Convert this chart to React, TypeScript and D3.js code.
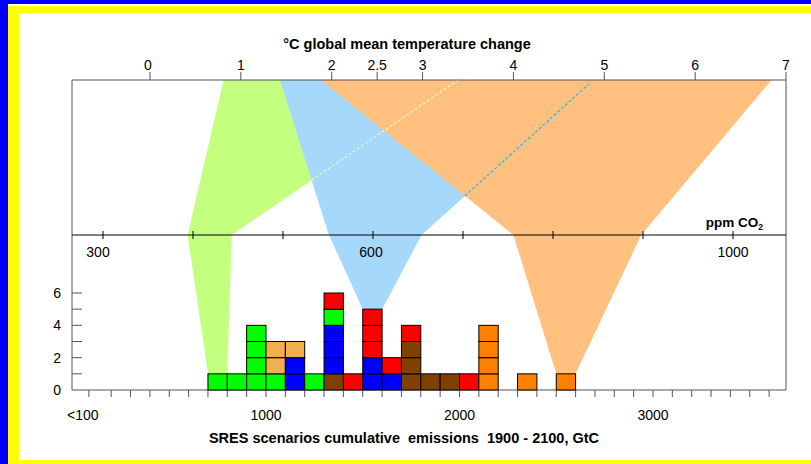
import React from "react";
import * as d3 from "d3";

// ---- data ----
const tempTicks = [0, 1, 2, 2.5, 3, 4, 5, 6, 7];
const ppmTicks = [300, 400, 500, 600, 700, 800, 900, 1000];
const ppmLabels = [300, 600, 1000];
const emisTicks = d3.range(100, 3700, 100);
const emisLabelValues = [100, 1000, 2000, 3000];
const emisLabelTexts = ["<100", "1000", "2000", "3000"];
const countTicks = [1, 2, 3, 4, 5, 6];
const countLabels = [0, 2, 4, 6];

// scenario groups (colour keys)
const groupNames = ["B1", "A1T", "B2", "A1B", "A2", "A1FI"];
const groupColors = ["#00ff00", "#f0b050", "#0000ff", "#ff0000", "#804000", "#ff8000"];

// histogram bins (lower edge, GtC) and stacked scenarios bottom->top
const binStarts = [700, 800, 900, 1000, 1100, 1200, 1300, 1400, 1500, 1600, 1700, 1800, 1900, 2000, 2100, 2300, 2500];
const binStacks = [
  ["B1"],
  ["B1"],
  ["B1", "B1", "B1", "B1"],
  ["B1", "A1T", "A1T"],
  ["B2", "B2", "A1T"],
  ["B1"],
  ["A2", "B2", "B2", "B2", "B1", "A1B"],
  ["A1B"],
  ["B2", "B2", "A1B", "A1B", "A1B"],
  ["B2", "A1B"],
  ["A2", "A2", "A2", "A1B"],
  ["A2"],
  ["A2"],
  ["A1B"],
  ["A1FI", "A1FI", "A1FI", "A1FI"],
  ["A1FI"],
  ["A1FI"],
];

// stabilisation bands: temperature range, ppm range, emissions bin, bin height
const bandColors = ["#c4ff80", "#a6d8fc", "#ffc080"];
const bandTemp = [[0.81, 3.39], [1.43, 4.88], [1.88, 6.84]];
const bandPpm = [[394, 443], [551, 654], [756, 898]];
const bandEmis = [[700, 800], [1500, 1600], [2500, 2600]];
const bandCount = [1, 5, 1];
const dashColors = ["#d8ffc8", "#28b4ec"];

export default function App() {
  const W = 811, H = 464;
  const left = 72, right = 786;
  const yTop = 80, yMid = 235, yBase = 390;

  const tX = d3.scaleLinear().domain([0, 7]).range([150, 786]);
  const pX = d3.scaleLinear().domain([300, 1000]).range([103, 733]);
  const eX = d3.scaleLinear().domain([1000, 2000]).range([266, 459.5]);
  const cY = d3.scaleLinear().domain([0, 6]).range([yBase, 293]);
  const color = d3.scaleOrdinal<string, string>().domain(groupNames).range(groupColors);
  const line = d3.line();

  const upper = bandTemp.map((t, i) => [
    [tX(t[0]), yTop], [tX(t[1]), yTop], [pX(bandPpm[i][1]), yMid], [pX(bandPpm[i][0]), yMid],
  ] as [number, number][]);
  const lower = bandPpm.map((p, i) => [
    [pX(p[0]), yMid], [pX(p[1]), yMid], [eX(bandEmis[i][1]), cY(bandCount[i])], [eX(bandEmis[i][0]), cY(bandCount[i])],
  ] as [number, number][]);

  // intersection of right edge of band i with left edge of band i+1
  const inter = (a1: number[], a2: number[], b1: number[], b2: number[]) => {
    const d = (a1[0] - a2[0]) * (b1[1] - b2[1]) - (a1[1] - a2[1]) * (b1[0] - b2[0]);
    const t = ((a1[0] - b1[0]) * (b1[1] - b2[1]) - (a1[1] - b1[1]) * (b1[0] - b2[0])) / d;
    return [a1[0] + t * (a2[0] - a1[0]), a1[1] + t * (a2[1] - a1[1])];
  };
  const dashEnds = [-5, 4];
  const dashes = [0, 1].map((i) => {
    const rb = upper[i][2], rt = upper[i][1];
    const lb = upper[i + 1][3], lt = upper[i + 1][0];
    const p = inter(rb, rt, lb, lt);
    const yEnd = yTop + dashEnds[i];
    const k = (yEnd - rb[1]) / (rt[1] - rb[1]);
    const end = [rb[0] + k * (rt[0] - rb[0]), yEnd];
    return [p, end] as [number, number][];
  });

  const cellW = eX(1100) - eX(1000);
  const font = "'Liberation Sans', Arial, sans-serif";
  const axisCol = "#555";
  const tickFs = 14;

  return (
    <svg width={W} height={H} style={{ position: "absolute", left: 0, top: 0, background: "#fff" }} fontFamily={font}>
      {/* page frame */}
      <rect x={0} y={0} width={8} height={H} fill="#0000ff" />
      <rect x={0} y={0} width={W} height={4} fill="#0000ff" />
      <rect x={8} y={6} width={11} height={H - 6} fill="#ffff00" />
      <rect x={8} y={6} width={W - 8} height={7} fill="#ffff00" />
      <rect x={8} y={460} width={W - 8} height={4} fill="#ffff00" />

      {/* bands */}
      {upper.map((pts, i) => (
        <g key={"b" + i}>
          <path d={line(pts) + "Z"} fill={bandColors[i]} />
          <path d={line(lower[i]) + "Z"} fill={bandColors[i]} />
        </g>
      ))}
      {dashes.map((pts, i) => (
        <path key={"d" + i} d={line(pts) || ""} stroke={dashColors[i]} strokeWidth={1.2} strokeDasharray="3,2" fill="none" />
      ))}

      {/* frame lines */}
      <line x1={left} x2={right} y1={yTop} y2={yTop} stroke={axisCol} />
      <line x1={left} x2={left} y1={yTop} y2={yBase} stroke={axisCol} />
      <line x1={right} x2={right} y1={yTop} y2={yBase} stroke={axisCol} />
      <line x1={left} x2={right} y1={yBase} y2={yBase} stroke={axisCol} />
      <line x1={left} x2={right} y1={yMid} y2={yMid} stroke="#000" />

      {/* top axis */}
      {tempTicks.map((t) => (
        <g key={"t" + t}>
          <line x1={tX(t)} x2={tX(t)} y1={yTop} y2={yTop - 8} stroke={axisCol} />
          <text x={tX(t) - (t === 0 ? 2 : 0)} y={70} textAnchor="middle" fontSize={tickFs} fill="#000">{t}</text>
        </g>
      ))}
      <text x={407} y={49} textAnchor="middle" fontSize={14.5} fontWeight="bold">°C global mean temperature change</text>

      {/* middle axis */}
      {ppmTicks.map((p) => (
        <line key={"p" + p} x1={pX(p)} x2={pX(p)} y1={yMid - 4} y2={yMid + 4} stroke="#000" />
      ))}
      {ppmLabels.map((p) => (
        <text key={"pl" + p} x={pX(p) - (p === 300 ? 5 : p === 600 ? 2 : 0)} y={257} textAnchor="middle" fontSize={tickFs}>{p}</text>
      ))}
      <text x={763} y={227} textAnchor="end" fontSize={13.5} fontWeight="bold">
        ppm CO<tspan fontSize={8.5} dy={3}>2</tspan>
      </text>

      {/* histogram */}
      {binStarts.map((b, i) => (
        <g key={"h" + b}>
          {binStacks[i].map((g, j) => (
            <rect key={j} x={eX(b)} y={cY(j + 1)} width={cellW} height={cY(j) - cY(j + 1)}
              fill={color(g)} stroke="#000" strokeWidth={1} />
          ))}
        </g>
      ))}

      {/* y axis */}
      {countTicks.map((c) => (
        <line key={"c" + c} x1={left} x2={left + 10} y1={cY(c)} y2={cY(c)} stroke={axisCol} />
      ))}
      {countLabels.map((c) => (
        <text key={"cl" + c} x={61} y={cY(c) + 5} textAnchor="end" fontSize={tickFs}>{c}</text>
      ))}

      {/* bottom axis */}
      {emisTicks.map((e) => (
        <line key={"e" + e} x1={eX(e) - (e === 100 ? 3 : 0)} x2={eX(e) - (e === 100 ? 3 : 0)} y1={yBase} y2={yBase + 7} stroke={axisCol} />
      ))}
      {emisLabelValues.map((e, i) => (
        <text key={"el" + e} x={eX(e) - (e === 100 ? 9 : 0)} y={420} textAnchor="middle" fontSize={tickFs}>{emisLabelTexts[i]}</text>
      ))}
      <text x={404} y={443} textAnchor="middle" fontSize={14.5} fontWeight="bold" style={{ whiteSpace: "pre" }}>
        SRES scenarios cumulative  emissions  1900 - 2100, GtC
      </text>
    </svg>
  );
}
